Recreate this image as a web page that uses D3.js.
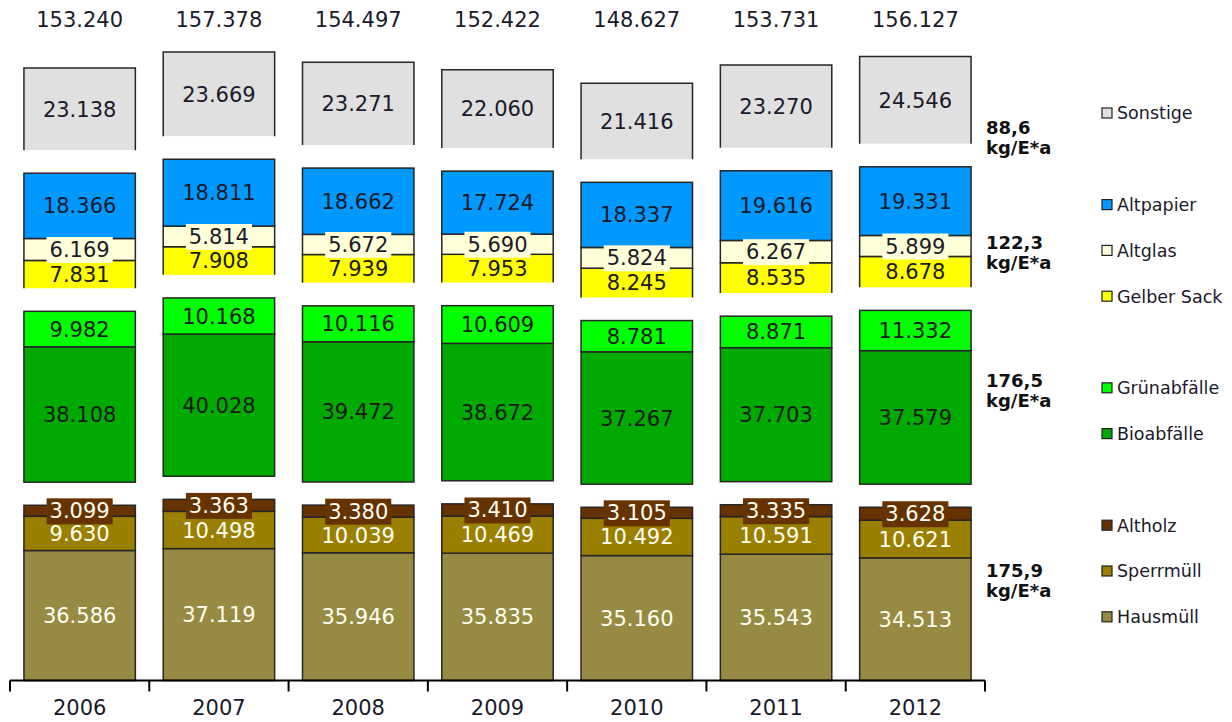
<!DOCTYPE html>
<html>
<head>
<meta charset="utf-8">
<script src="https://cdn.jsdelivr.net/npm/d3@7"></script>
<style>
  body { margin: 0; background: #fff; }
  text { font-family: "DejaVu Sans", Verdana, sans-serif; }
</style>
</head>
<body>
<svg id="chart" width="1232" height="722"></svg>
<script>
// data (tonnes per year)
const years = ["2006", "2007", "2008", "2009", "2010", "2011", "2012"];
const totals = [153240, 157378, 154497, 152422, 148627, 153731, 156127];

const hausmuell = [36586, 37119, 35946, 35835, 35160, 35543, 34513];
const sperrmuell = [9630, 10498, 10039, 10469, 10492, 10591, 10621];
const altholz = [3099, 3363, 3380, 3410, 3105, 3335, 3628];
const bioabfaelle = [38108, 40028, 39472, 38672, 37267, 37703, 37579];
const gruenabfaelle = [9982, 10168, 10116, 10609, 8781, 8871, 11332];
const gelberSack = [7831, 7908, 7939, 7953, 8245, 8535, 8678];
const altglas = [6169, 5814, 5672, 5690, 5824, 6267, 5899];
const altpapier = [18366, 18811, 18662, 17724, 18337, 19616, 19331];
const sonstige = [23138, 23669, 23271, 22060, 21416, 23270, 24546];

// per-inhabitant averages of each group, bottom to top
const groupAverages = ["175,9", "176,5", "122,3", "88,6"];

// series grouped from bottom to top
const groups = [
  [
    { name: "Hausmüll", values: hausmuell, color: "#978b44", text: "#fffff2" },
    { name: "Sperrmüll", values: sperrmuell, color: "#9a7f00", text: "#fffff2" },
    { name: "Altholz", values: altholz, color: "#663300", text: "#fffff2", box: true }
  ],
  [
    { name: "Bioabfälle", values: bioabfaelle, color: "#00aa00", text: "#1a1a1a" },
    { name: "Grünabfälle", values: gruenabfaelle, color: "#00ff00", text: "#1a1a1a" }
  ],
  [
    { name: "Gelber Sack", values: gelberSack, color: "#ffff00", text: "#1a1a1a", openBottom: true },
    { name: "Altglas", values: altglas, color: "#ffffd9", text: "#1a1a2a", box: true },
    { name: "Altpapier", values: altpapier, color: "#0099ff", text: "#1a1a2a" }
  ],
  [
    { name: "Sonstige", values: sonstige, color: "#e0e0e0", text: "#1a1a2a", openBottom: true }
  ]
];

const de = d3.formatLocale({ decimal: ",", thousands: ".", grouping: [3], currency: ["", " €"] });
const fmt = de.format(",d");

const svg = d3.select("#chart");
const baseY = 680.5;
const gap = 6500; // empty space between the groups, in data units

const x = d3.scaleBand().domain(years).range([10, 985]).paddingInner(0.2).paddingOuter(0.1);
const y = d3.scaleLinear().domain([0, 190000]).range([baseY, baseY - 190 * 3.553]);

// build the segments with running offsets
const segments = [];
years.forEach((yr, i) => {
  let acc = 0;
  groups.forEach((g, gi) => {
    g.forEach(s => {
      segments.push({ year: yr, s, y0: acc, y1: acc + s.values[i], v: s.values[i] });
      acc += s.values[i];
    });
    if (gi < groups.length - 1) acc += gap;
  });
});

const bars = svg.append("g");
bars.selectAll("rect")
  .data(segments)
  .join("rect")
  .attr("x", d => x(d.year))
  .attr("y", d => y(d.y1))
  .attr("width", x.bandwidth())
  .attr("height", d => y(d.y0) - y(d.y1))
  .attr("fill", d => d.s.color)
  .attr("stroke", "#262626")
  .attr("stroke-width", 1.5)
  .attr("stroke-dasharray", d => {
    if (!d.s.openBottom) return null;
    const w = x.bandwidth(), h = y(d.y0) - y(d.y1);
    return `${w + h} ${w} ${h + 1}`;
  });

// value labels
const labels = svg.append("g").attr("font-size", 21);
segments.forEach(d => {
  const cx = x(d.year) + x.bandwidth() / 2;
  const cy = (y(d.y0) + y(d.y1)) / 2;
  const g = labels.append("g");
  const t = g.append("text")
    .attr("x", cx)
    .attr("y", cy)
    .attr("dy", "0.36em")
    .attr("text-anchor", "middle")
    .attr("fill", d.s.text)
    .text(fmt(d.v));
  if (d.s.box) {
    const b = t.node().getBBox();
    g.insert("rect", "text")
      .attr("x", b.x - 3)
      .attr("y", b.y - 1)
      .attr("width", b.width + 6)
      .attr("height", b.height + 2)
      .attr("fill", d.s.color);
  }
});

// totals above the bars
svg.append("g").selectAll("text")
  .data(years)
  .join("text")
  .attr("x", d => x(d) + x.bandwidth() / 2)
  .attr("y", 27)
  .attr("text-anchor", "middle")
  .attr("font-size", 21)
  .attr("fill", "#1a1a2a")
  .text((d, i) => fmt(totals[i]));

// x axis with ticks between categories
const axis = svg.append("g").attr("stroke", "#000").attr("stroke-width", 2);
axis.append("line").attr("x1", 10).attr("x2", 985).attr("y1", baseY).attr("y2", baseY);
const bounds = years.map(yr => x(yr) - x.step() * x.paddingInner() / 2);
bounds[0] = 10;
bounds.push(985);
axis.selectAll("line.tick")
  .data(bounds)
  .join("line")
  .attr("class", "tick")
  .attr("x1", d => d).attr("x2", d => d)
  .attr("y1", baseY).attr("y2", baseY + 11);

svg.append("g").selectAll("text")
  .data(years)
  .join("text")
  .attr("x", d => x(d) + x.bandwidth() / 2)
  .attr("y", 715)
  .attr("text-anchor", "middle")
  .attr("font-size", 21)
  .attr("fill", "#1a1a2a")
  .text(d => d);

// group averages at the right of the bars
const avgY = [576.5, 386.5, 248.5, 133.5];
const avg = svg.append("g").attr("font-size", 18).attr("font-weight", "bold").attr("fill", "#111");
groupAverages.forEach((a, i) => {
  avg.append("text").attr("x", 986).attr("y", avgY[i]).text(a);
  avg.append("text").attr("x", 986).attr("y", avgY[i] + 20).text("kg/E*a");
});

// legend, top group first, one empty row between groups
const legendRows = [];
groups.slice().reverse().forEach((g, gi) => {
  if (gi > 0) legendRows.push(null);
  g.slice().reverse().forEach(s => legendRows.push(s));
});
const legend = svg.append("g");
legendRows.forEach((s, r) => {
  if (!s) return;
  const cy = 113 + r * 45.8;
  legend.append("rect")
    .attr("x", 1102).attr("y", cy - 5)
    .attr("width", 10).attr("height", 10)
    .attr("fill", s.color)
    .attr("stroke", "#222").attr("stroke-width", 1.2);
  legend.append("text")
    .attr("x", 1117).attr("y", cy)
    .attr("dy", "0.36em")
    .attr("font-size", 17.5)
    .attr("fill", "#1a1a2a")
    .text(s.name);
});
</script>
</body>
</html>
